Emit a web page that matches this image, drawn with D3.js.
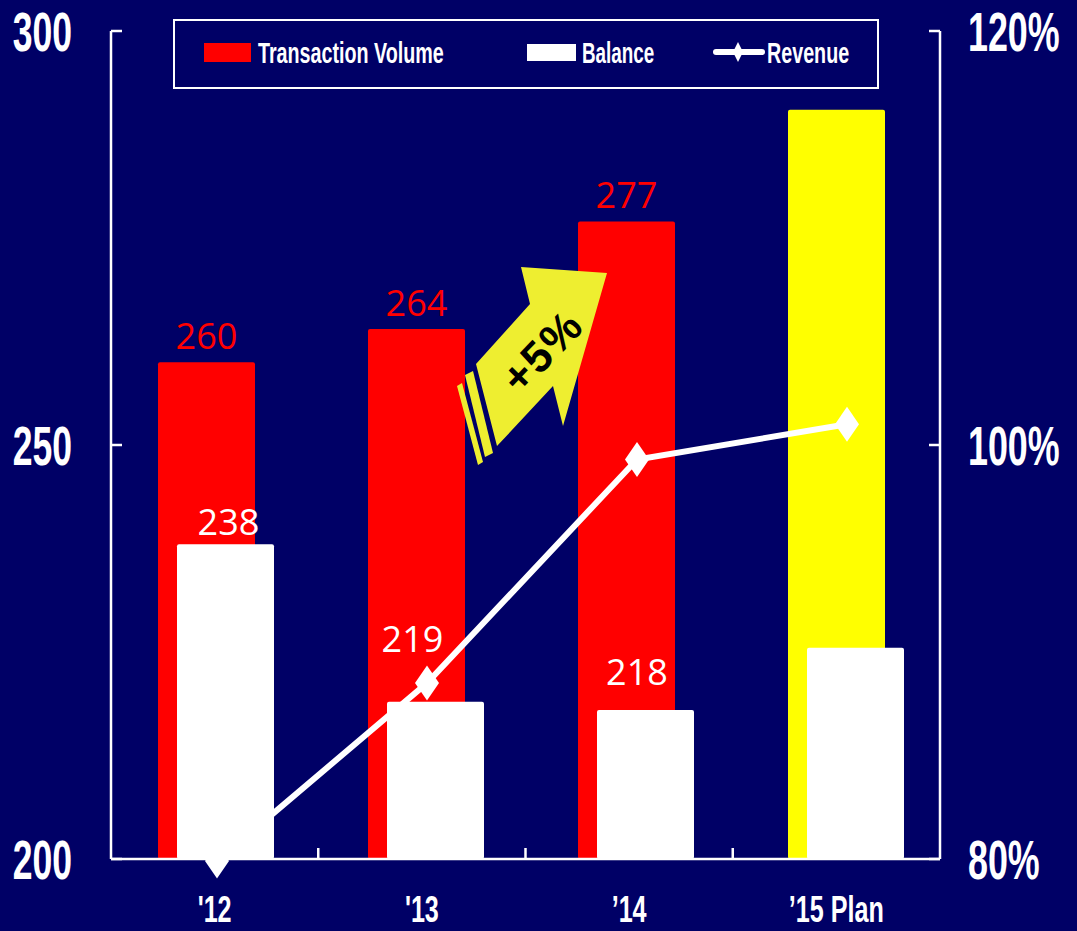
<!DOCTYPE html>
<html>
<head>
<meta charset="utf-8">
<script src="https://cdn.jsdelivr.net/npm/d3@7"></script>
<style>
  html, body { margin: 0; padding: 0; background: #000066; }
  svg { display: block; }
</style>
</head>
<body>
<svg id="chart" width="1077" height="931"></svg>
<script>
// ---- data ----
const categories = ["'12", "'13", "’14", "’15 Plan"];
const transactionVolume = [260, 264, 277, 290.5];
const balance = [238, 219, 218, 225.5];
const revenuePct = [79.9, 88.5, 99.3, 101.0];
const leftTicks = [200, 250, 300];
const rightTicks = [80, 100, 120];
const legendNames = ["Transaction Volume", "Balance", "Revenue"];
const growthLabel = "+5%";
const planCategory = "’15 Plan";

// label nudges for the balance values (dx, dy from the bar top centre)
const balanceLabelShift = [[3, -9], [-23, -50], [-8.5, -25]];

// ---- layout ----
const W = 1077, H = 931;
const NAVY = "#000066", RED = "#ff0000", YELLOW = "#ffff00", WHITE = "#ffffff";
const axisLeftX = 111, axisRightX = 940, baseY = 859, topY = 31;

const svg = d3.select("#chart");
svg.append("rect").attr("width", W).attr("height", H).attr("fill", NAVY);

const yLeft = d3.scaleLinear().domain([200, 300]).range([baseY, topY]);
const yRight = d3.scaleLinear().domain([80, 120]).range([baseY, topY]);
const xBar = d3.scaleBand().domain(categories).range([110, 950]).padding(0);
const xAxisScale = d3.scaleBand().domain(categories).range([axisLeftX, axisRightX]).padding(0);

const barW = 97, redOff = 48, whiteOff = 67;

// condensed bold text helper
function condensed(g, txt, x, y, size, k, anchor, fill, family) {
  return g.append("text")
    .attr("transform", `translate(${x},${y}) scale(${k},1)`)
    .attr("text-anchor", anchor || "start")
    .attr("font-family", family || "'Liberation Sans', Arial, sans-serif")
    .attr("font-weight", "bold")
    .attr("font-size", size)
    .attr("fill", fill || WHITE)
    .text(txt);
}

// ---- bars ----
const rows = categories.map((c, i) => ({
  c, tv: transactionVolume[i], bal: balance[i], rev: revenuePct[i], i
}));

const gBars = svg.append("g");
gBars.selectAll("rect.tv").data(rows).join("rect")
  .attr("class", "tv")
  .attr("x", d => xBar(d.c) + redOff)
  .attr("width", barW)
  .attr("y", d => yLeft(d.tv))
  .attr("height", d => baseY - yLeft(d.tv))
  .attr("rx", 2)
  .attr("fill", d => d.c === planCategory ? YELLOW : RED);

gBars.selectAll("rect.bal").data(rows).join("rect")
  .attr("class", "bal")
  .attr("x", d => xBar(d.c) + whiteOff)
  .attr("width", barW)
  .attr("y", d => yLeft(d.bal))
  .attr("height", d => baseY - yLeft(d.bal))
  .attr("rx", 2)
  .attr("fill", WHITE);

// ---- axes ----
const gAxes = svg.append("g").attr("stroke", WHITE).attr("stroke-width", 2.5).attr("fill", "none");
gAxes.append("line").attr("x1", axisLeftX).attr("x2", axisLeftX).attr("y1", yLeft(300)).attr("y2", baseY);
gAxes.append("line").attr("x1", axisRightX).attr("x2", axisRightX).attr("y1", yRight(120)).attr("y2", baseY);
gAxes.append("line").attr("x1", axisLeftX).attr("x2", axisRightX).attr("y1", baseY).attr("y2", baseY);
gAxes.selectAll("line.lt").data(leftTicks).join("line").attr("class", "lt")
  .attr("x1", axisLeftX).attr("x2", axisLeftX + 11)
  .attr("y1", d => yLeft(d)).attr("y2", d => yLeft(d));
gAxes.selectAll("line.rt").data(rightTicks).join("line").attr("class", "rt")
  .attr("x1", axisRightX - 11).attr("x2", axisRightX)
  .attr("y1", d => yRight(d)).attr("y2", d => yRight(d));
gAxes.selectAll("line.xt").data(categories.slice(1)).join("line").attr("class", "xt")
  .attr("x1", d => xAxisScale(d)).attr("x2", d => xAxisScale(d))
  .attr("y1", baseY).attr("y2", baseY - 11);

const gLabels = svg.append("g");
leftTicks.forEach(t => condensed(gLabels, String(t), 72, yLeft(t) + 20, 56, 0.635, "end"));
rightTicks.forEach(t => condensed(gLabels, t + "%", 968, yRight(t) + 20, 56, 0.64, "start"));
categories.forEach(c => condensed(gLabels, c, xAxisScale(c) + xAxisScale.bandwidth() / 2, 922, 37, 0.68, "middle"));

// ---- growth arrow annotation between '13 and '14 ----
const ax = xBar(categories[2]), ay = yLeft(transactionVolume[1]) + 10;
const gArrow = svg.append("g").attr("transform", `translate(${ax},${ay})`);
const rel = pts => pts.map(p => [p[0] - 530, p[1] - 340]);
const arrowBody = rel([[476, 365], [530, 305], [521, 268], [607, 274], [563, 427], [553, 387], [497, 447]]);
const stripeA = rel([[465, 376], [473, 372], [493, 454], [485, 458]]);
const stripeB = rel([[457, 387], [462, 384], [483, 463], [478, 466]]);
const poly = d3.line();
[arrowBody, stripeA, stripeB].forEach(p =>
  gArrow.append("path").attr("d", poly(p) + "Z").attr("fill", "#eeee30"));
gArrow.append("text")
  .attr("transform", `translate(${542 - 530},${352 - 340}) rotate(-46)`)
  .attr("text-anchor", "middle")
  .attr("dominant-baseline", "central")
  .attr("font-family", "'Liberation Sans', Arial, sans-serif")
  .attr("font-weight", "bold")
  .attr("font-size", 44)
  .attr("letter-spacing", 2)
  .attr("fill", "#000000")
  .text(growthLabel);

// ---- revenue line ----
const xRev = d => xBar(d.c) + xBar.bandwidth() / 2 + 2;
svg.append("path")
  .datum(rows)
  .attr("d", d3.line().x(xRev).y(d => yRight(d.rev)))
  .attr("fill", "none")
  .attr("stroke", WHITE)
  .attr("stroke-width", 6);
const diamond = (w, h) => `M0,${-h / 2}L${w / 2},0L0,${h / 2}L${-w / 2},0Z`;
svg.selectAll("path.mk").data(rows).join("path").attr("class", "mk")
  .attr("transform", d => `translate(${xRev(d)},${yRight(d.rev)})`)
  .attr("d", diamond(24, 35))
  .attr("fill", WHITE);

// ---- value labels ----
const valueFont = "'Open Sans', 'Noto Sans', sans-serif";
const gVals = svg.append("g").attr("font-family", valueFont).attr("font-size", 36).attr("text-anchor", "middle");
rows.filter(d => d.c !== planCategory).forEach(d => {
  gVals.append("text")
    .attr("x", xBar(d.c) + redOff + barW / 2)
    .attr("y", yLeft(d.tv) - 13)
    .attr("fill", RED)
    .text(d.tv);
  const s = balanceLabelShift[d.i];
  gVals.append("text")
    .attr("x", xBar(d.c) + whiteOff + barW / 2 + s[0])
    .attr("y", yLeft(d.bal) + s[1])
    .attr("fill", WHITE)
    .text(d.bal);
});

// ---- legend ----
const gLeg = svg.append("g");
gLeg.append("rect").attr("x", 174).attr("y", 20).attr("width", 704).attr("height", 68)
  .attr("fill", "none").attr("stroke", WHITE).attr("stroke-width", 2);
gLeg.append("rect").attr("x", 204).attr("y", 43).attr("width", 47).attr("height", 19).attr("fill", RED);
condensed(gLeg, legendNames[0], 258, 63, 29, 0.68);
gLeg.append("rect").attr("x", 527).attr("y", 44).attr("width", 49).attr("height", 17).attr("fill", WHITE);
condensed(gLeg, legendNames[1], 582, 63, 29, 0.65);
gLeg.append("line").attr("x1", 716).attr("x2", 762).attr("y1", 52).attr("y2", 52)
  .attr("stroke", WHITE).attr("stroke-width", 6).attr("stroke-linecap", "round");
gLeg.append("path").attr("transform", "translate(738,52)").attr("d", diamond(10, 20)).attr("fill", WHITE);
condensed(gLeg, legendNames[2], 767, 63, 29, 0.68);
</script>
</body>
</html>
